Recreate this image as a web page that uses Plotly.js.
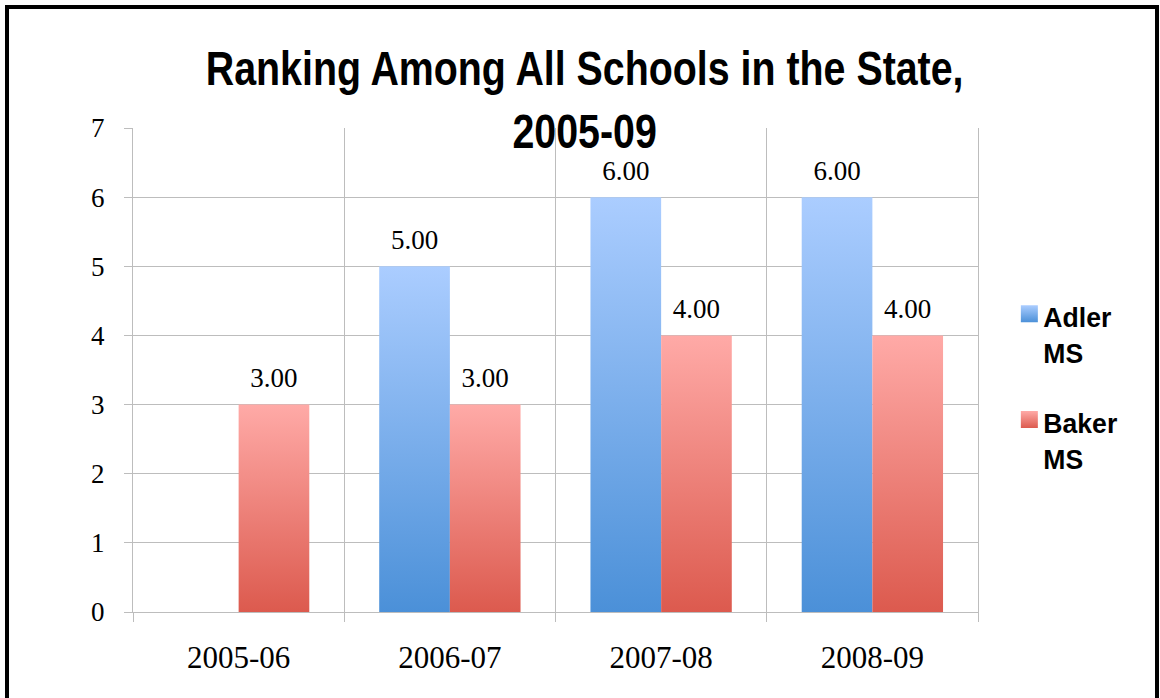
<!DOCTYPE html>
<html>
<head>
<meta charset="utf-8">
<script src="https://cdn.plot.ly/plotly-3.0.1.min.js"></script>
<style>
  html, body { margin:0; padding:0; overflow:hidden; background:#fff; }
  #chart { width:1160px; height:698px; }
  #frame { position:absolute; left:5px; top:5px; width:1154px; height:800px; border:4px solid #000; box-sizing:border-box; pointer-events:none; }
</style>
</head>
<body>
<div id="chart"></div>
<div id="frame"></div>
<script>
// ---- data ----
const categories = ['2005-06', '2006-07', '2007-08', '2008-09'];
const adlerValues = [null, 5, 6, 6];
const bakerValues = [3, 3, 4, 4];
const seriesNames = ['Adler<br>MS', 'Baker<br>MS'];
const chartTitle = 'Ranking Among All Schools in the State,<br>2005-09';
const yTicks = [0, 1, 2, 3, 4, 5, 6, 7];

// ---- styles ----
const gradients = [
  { id: 'gradAdler', top: '#abcdff', bottom: '#4b90d8', solid: '#7aaee9' },
  { id: 'gradBaker', top: '#ffaaa7', bottom: '#dc5a4e', solid: '#ee807a' }
];
const gridColor = '#bdbdbd';
const serif = 'Liberation Serif, Times New Roman, serif';
const sans = 'Liberation Sans, Arial, sans-serif';
const gap = 0.331;
const condense = 0.82;   // horizontal squeeze to mimic a narrow bold face

const fmt = v => (v === null ? '' : v.toFixed(2));

const data = [
  { type: 'bar', name: seriesNames[0], legendgroup: 'g1', x: categories, y: adlerValues, offsetgroup: 'a',
    marker: { color: gradients[0].solid, line: { width: 0 } }, hoverinfo: 'skip' },
  { type: 'bar', name: seriesNames[1], legendgroup: 'g2', x: categories, y: bakerValues, offsetgroup: 'b',
    marker: { color: gradients[1].solid, line: { width: 0 } }, hoverinfo: 'skip' },
  { type: 'scatter', mode: 'markers+text', x: categories, y: adlerValues, offsetgroup: 'a',
    text: adlerValues.map(fmt), textposition: 'top center', cliponaxis: false,
    textfont: { family: serif, size: 27, color: '#000' },
    marker: { size: 15, opacity: 0 }, showlegend: false, hoverinfo: 'skip' },
  { type: 'scatter', mode: 'markers+text', x: categories, y: bakerValues, offsetgroup: 'b',
    text: bakerValues.map(fmt), textposition: 'top center', cliponaxis: false,
    textfont: { family: serif, size: 27, color: '#000' },
    marker: { size: 15, opacity: 0 }, showlegend: false, hoverinfo: 'skip' }
];

const layout = {
  width: 1160, height: 698,
  paper_bgcolor: '#fff', plot_bgcolor: '#fff',
  margin: { l: 133, r: 182, t: 128, b: 86, pad: 0, autoexpand: false },
  title: {
    text: chartTitle, xref: 'container', x: 0.504, xanchor: 'center',
    yref: 'container', y: 0.878, yanchor: 'top',
    font: { family: sans, size: 48, weight: 'bold', color: '#000' }
  },
  barmode: 'group', bargap: gap,
  scattermode: 'group', scattergap: gap,
  xaxis: {
    type: 'category', tickson: 'boundaries', showgrid: true, gridcolor: gridColor, gridwidth: 1,
    ticks: 'outside', ticklen: 9, tickcolor: gridColor, tickwidth: 1,
    showline: true, linecolor: gridColor, linewidth: 1,
    tickfont: { family: serif, size: 31, color: '#000' }, ticklabelstandoff: 18,
    fixedrange: true
  },
  yaxis: {
    range: [0, 7], tickvals: yTicks, ticktext: yTicks.map(String),
    showgrid: true, gridcolor: gridColor, gridwidth: 1, zeroline: false,
    ticks: 'outside', ticklen: 8, tickcolor: gridColor, tickwidth: 1,
    showline: true, mirror: true, linecolor: gridColor, linewidth: 1,
    tickfont: { family: serif, size: 27, color: '#000' }, ticklabelstandoff: 14,
    fixedrange: true
  },
  legend: {
    x: 1.03, xanchor: 'left', y: 0.663, yanchor: 'top', valign: 'top',
    font: { family: sans, size: 28, weight: 'bold', color: '#000' },
    bgcolor: 'rgba(0,0,0,0)', borderwidth: 0, tracegroupgap: 30, itemclick: false, itemdoubleclick: false
  },
  showlegend: true
};

const gd = document.getElementById('chart');
Plotly.newPlot(gd, data, layout, { displayModeBar: false, staticPlot: true }).then(finish);

function finish() {
  const svgNS = 'http://www.w3.org/2000/svg';
  const svg = gd.querySelector('svg.main-svg');
  let defs = svg.querySelector('defs');
  if (!defs) { defs = document.createElementNS(svgNS, 'defs'); svg.insertBefore(defs, svg.firstChild); }
  gradients.forEach(g => {
    const lg = document.createElementNS(svgNS, 'linearGradient');
    lg.setAttribute('id', g.id);
    lg.setAttribute('x1', '0'); lg.setAttribute('y1', '0');
    lg.setAttribute('x2', '0'); lg.setAttribute('y2', '1');
    [[0, g.top], [1, g.bottom]].forEach(([o, c]) => {
      const s = document.createElementNS(svgNS, 'stop');
      s.setAttribute('offset', o); s.setAttribute('stop-color', c);
      lg.appendChild(s);
    });
    defs.appendChild(lg);
  });
  gd.querySelectorAll('.barlayer .trace.bars').forEach((tr, i) => {
    tr.querySelectorAll('path').forEach(p => { p.style.fill = 'url(#' + gradients[i].id + ')'; });
  });
  gd.querySelectorAll('.legend .traces').forEach((tr, i) => {
    tr.querySelectorAll('.legendpoints path').forEach(p => {
      p.setAttribute('d', 'M14.5,6.5H-2.5V-10.5H14.5Z');
      p.style.fill = 'url(#' + gradients[i].id + ')';
    });
  });
  // squeeze the bold title horizontally around its centre
  const t = gd.querySelector('.g-gtitle text.gtitle');
  if (t) {
    const cx = parseFloat(t.getAttribute('x'));
    t.setAttribute('transform', 'translate(' + cx + ',0) scale(' + condense + ',1) translate(' + (-cx) + ',0)');
  }
  // squeeze legend labels slightly from their left edge
  gd.querySelectorAll('.legend text.legendtext').forEach(lt => {
    const lx = parseFloat(lt.getAttribute('x')) || 0;
    lt.setAttribute('transform', 'translate(' + lx + ',0) scale(0.95,1) translate(' + (-lx) + ',0)');
  });
}
</script>
</body>
</html>
